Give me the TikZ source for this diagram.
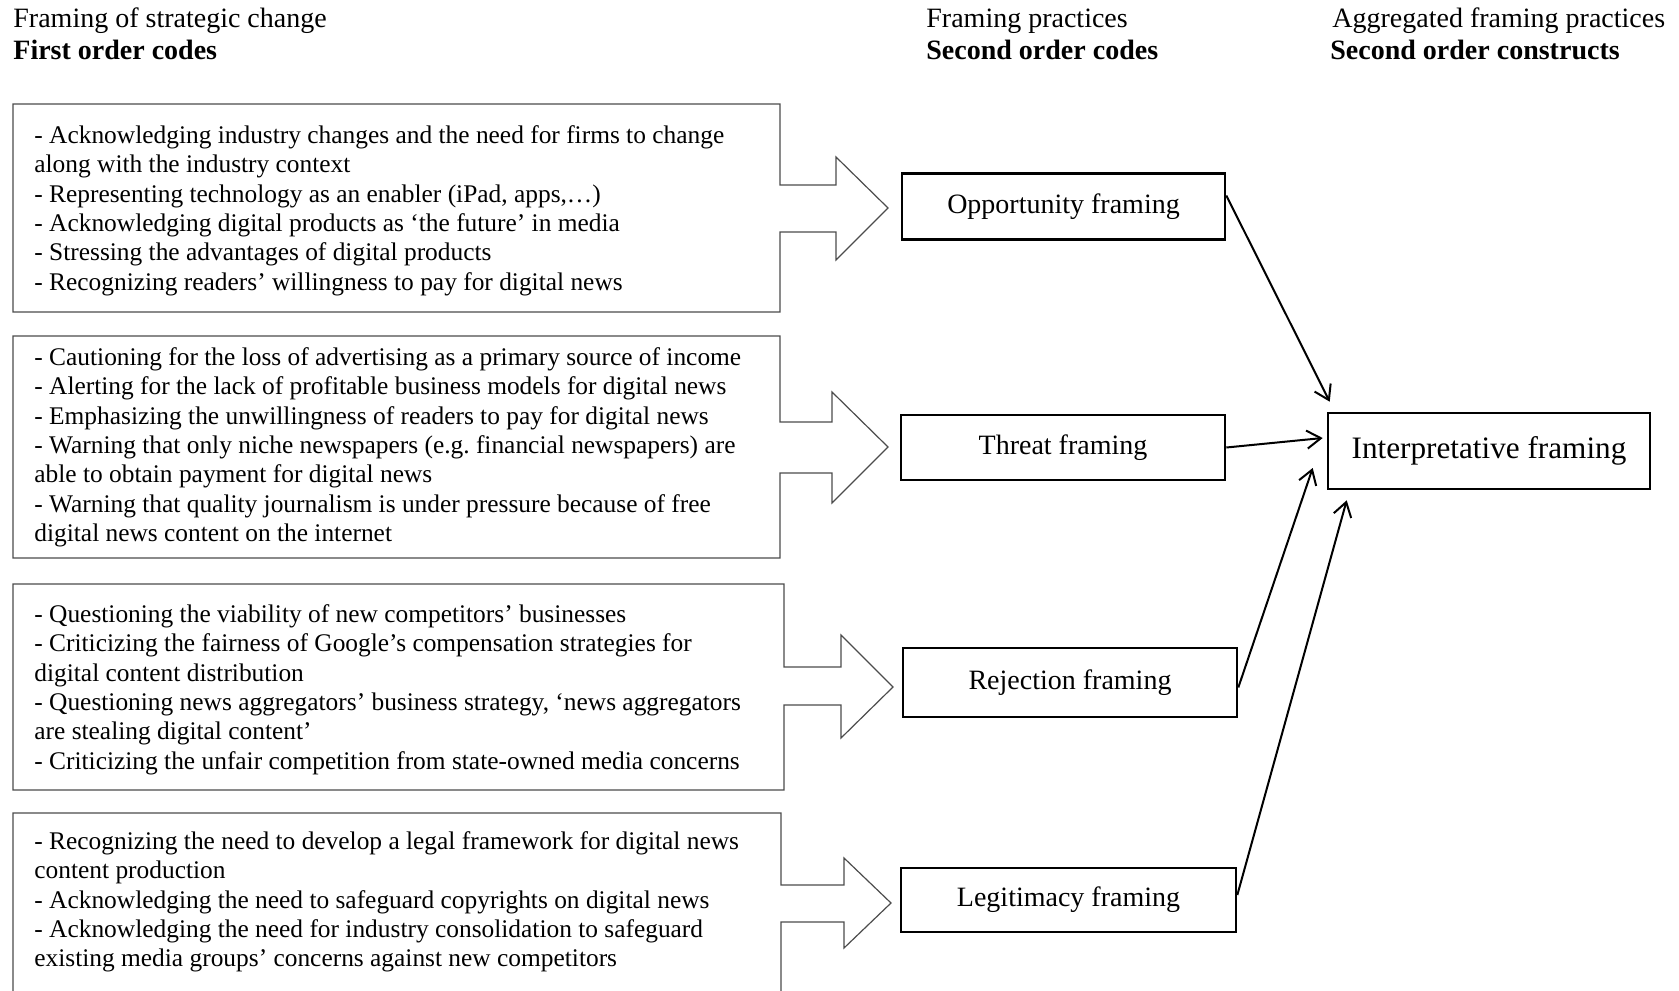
\documentclass[tikz,border=0pt]{standalone}
\usepackage{fontspec}
\setmainfont{Liberation Serif}
\usetikzlibrary{positioning}
\usetikzlibrary{arrows.meta}

\begin{document}
\begin{tikzpicture}[x=0.5pt, y=-0.5pt,
	heading/.style={anchor=base west, inner sep=0pt, font=\fontsize{14}{16}\selectfont},
	codes/.style={anchor=north west, align=left, inner sep=0pt, font=\fontsize{12.7}{14.7}\selectfont},
	outline/.style={draw=black!70, line width=0.6pt},
	practice/.style={draw, line width=1.3pt, minimum height=33pt, inner sep=0pt, font=\fontsize{14}{16}\selectfont},
	link/.style={-{Straight Barb[length=7pt,width=9pt]}, line width=1pt}]
	\useasboundingbox (0,0) rectangle (1679,990);
	% column headings
	\node [heading] (h1a) at (13,28) {Framing of strategic change};
	\node [heading] (h1b) at (13,60) {\textbf{First order codes}};
	\node [heading] (h2a) at (926,28) {Framing practices};
	\node [heading] (h2b) at (926,60) {\textbf{Second order codes}};
	\node [heading] (h3a) at (1332,28) {Aggregated framing practices};
	\node [heading] (h3b) at (1330,60) {\textbf{Second order constructs}};
	% first order codes, box and block arrow in one outline
	\draw [outline] (13,104) -- (780,104) -- (780,185) -- (836,185) -- (836,157) -- (888,208)
		-- (836,260) -- (836,232) -- (780,232) -- (780,312) -- (13,312) -- cycle;
	\draw [outline] (13,336) -- (780,336) -- (780,422) -- (832,422) -- (832,392) -- (888,447)
		-- (832,503) -- (832,473) -- (780,473) -- (780,558) -- (13,558) -- cycle;
	\draw [outline] (13,584) -- (784,584) -- (784,667) -- (841,667) -- (841,635) -- (893,687)
		-- (841,738) -- (841,705) -- (784,705) -- (784,790) -- (13,790) -- cycle;
	\draw [outline] (13,995) -- (13,813) -- (781,813) -- (781,885) -- (844,885) -- (844,858)
		-- (891,903) -- (844,948) -- (844,922) -- (781,922) -- (781,995);
	\node [codes] (opptext) at (34,125) {- Acknowledging industry changes and the need for firms to change\\
		along with the industry context\\
		- Representing technology as an enabler (iPad, apps,…)\\
		- Acknowledging digital products as ‘the future’ in media\\
		- Stressing the advantages of digital products\\
		- Recognizing readers’ willingness to pay for digital news};
	\node [codes] (thrtext) at (34,347) {- Cautioning for the loss of advertising as a primary source of income\\
		- Alerting for the lack of profitable business models for digital news\\
		- Emphasizing the unwillingness of readers to pay for digital news\\
		- Warning that only niche newspapers (e.g.\ financial newspapers) are\\
		able to obtain payment for digital news\\
		- Warning that quality journalism is under pressure because of free\\
		digital news content on the internet};
	\node [codes] (rejtext) at (34,604) {- Questioning the viability of new competitors’ businesses\\
		- Criticizing the fairness of Google’s compensation strategies for\\
		digital content distribution\\
		- Questioning news aggregators’ business strategy, ‘news aggregators\\
		are stealing digital content’\\
		- Criticizing the unfair competition from state-owned media concerns};
	\node [codes] (legtext) at (34,831) {- Recognizing the need to develop a legal framework for digital news\\
		content production\\
		- Acknowledging the need to safeguard copyrights on digital news\\
		- Acknowledging the need for industry consolidation to safeguard\\
		existing media groups’ concerns against new competitors};
	% second order codes
	\node [practice, minimum width=161.5pt] (opp) at (1063.5,206.5) {Opportunity framing};
	\node [practice, minimum width=162pt, minimum height=32.5pt] (thr) at (1063,447.5) {Threat framing};
	\node [practice, minimum width=167pt, minimum height=34.5pt] (rej) at (1070,682.5) {Rejection framing};
	\node [practice, minimum width=167.5pt, minimum height=32pt] (leg) at (1068.5,900) {Legitimacy framing};
	% second order construct
	\node [practice, minimum width=161pt, minimum height=38pt, font=\fontsize{15.6}{18}\selectfont] (interp) at (1489,451) {Interpretative framing};
	\draw [link] ([yshift=5.5pt]opp.east) -- ([xshift=1.5pt,yshift=5pt]interp.north west);
	\draw [link] (thr.east) -- ([xshift=-2pt,yshift=6.5pt]interp.west);
	\draw [link] ([yshift=-2.5pt]rej.east) -- ([xshift=-7pt,yshift=-8.5pt]interp.west);
	\draw [link] ([yshift=2.5pt]leg.east) -- ([xshift=10pt,yshift=-5pt]interp.south west);
\end{tikzpicture}
\end{document}
